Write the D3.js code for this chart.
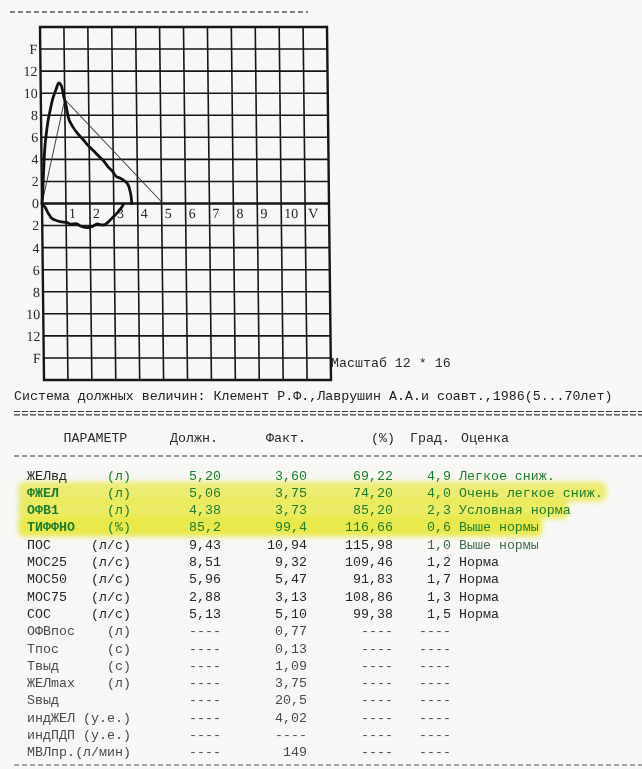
<!DOCTYPE html>
<html>
<head>
<meta charset="utf-8">
<script src="https://cdn.jsdelivr.net/npm/d3@7"></script>
<style>
  body { margin: 0; background: #f7f7f5; }
  svg { display: block; }
</style>
</head>
<body>
<script>
// ---- Flow-volume loop (volume, L  /  flow, L/s) ----
const expVolume = [0, 0.04, 0.08, 0.12, 0.17, 0.23, 0.3, 0.37, 0.5, 0.65, 0.76, 0.86, 0.95, 1.06, 1.17, 1.34, 1.52, 1.75, 1.94, 2.17, 2.42, 2.6, 2.77, 2.95, 3.12, 3.28, 3.4, 3.52, 3.62, 3.7, 3.74, 3.75];
const expFlow   = [0, 1.2, 2.8, 4.3, 5.6, 6.6, 7.6, 8.3, 9.5, 10.4, 10.94, 10.7, 9.8, 8.8, 7.6, 6.9, 6.35, 5.8, 5.3, 4.8, 4.24, 3.85, 3.34, 2.95, 2.45, 2.3, 2.13, 1.95, 1.65, 1.0, 0.45, 0];
const inspVolume = [0, 0.04, 0.13, 0.26, 0.4, 0.54, 0.75, 1.03, 1.17, 1.45, 1.59, 1.87, 2.08, 2.29, 2.5, 2.63, 2.8, 2.98, 3.19, 3.33, 3.4];
const inspFlow   = [0, -0.15, -0.35, -0.9, -1.34, -1.5, -1.65, -1.74, -1.86, -1.84, -2.04, -2.18, -2.1, -1.86, -1.95, -1.9, -1.59, -1.2, -0.74, -0.34, -0.1];
// predicted triangle: start, predicted peak flow, predicted FVC
const predVolume = [0, 1.0, 5.06];
const predFlow   = [0, 9.43, 0];

// ---- Axis ticks ----
const volumeTicks = [1, 2, 3, 4, 5, 6, 7, 8, 9, 10, 11];
const volumeTickLabels = ["1", "2", "3", "4", "5", "6", "7", "8", "9", "10", "V"];
const flowTicks = [14, 12, 10, 8, 6, 4, 2, 0, -2, -4, -6, -8, -10, -12, -14];
const flowTickLabels = ["F", "12", "10", "8", "6", "4", "2", "0", "2", "4", "6", "8", "10", "12", "F"];
const scaleCaption = "Масштаб 12 * 16";

// ---- Results table ----
const normsTitle = "Система должных величин: Клемент Р.Ф.,Лаврушин А.А.и соавт.,1986(5...70лет)";
const headers = ["ПАРАМЕТР", "Должн.", "Факт.", "(%)", "Град.", "Оценка"];
const params = ["ЖЕЛвд", "ФЖЕЛ", "ОФВ1", "ТИФФНО", "ПОС", "МОС25", "МОС50", "МОС75", "СОС", "ОФВпос", "Тпос", "Твыд", "ЖЕЛmax", "Sвыд", "индЖЕЛ", "индПДП", "МВЛпр."];
const units = ["(л)", "(л)", "(л)", "(%)", "(л/с)", "(л/с)", "(л/с)", "(л/с)", "(л/с)", "(л)", "(с)", "(с)", "(л)", "", "(у.е.)", "(у.е.)", "(л/мин)"];
const predicted = ["5,20", "5,06", "4,38", "85,2", "9,43", "8,51", "5,96", "2,88", "5,13", "----", "----", "----", "----", "----", "----", "----", "----"];
const actual = ["3,60", "3,75", "3,73", "99,4", "10,94", "9,32", "5,47", "3,13", "5,10", "0,77", "0,13", "1,09", "3,75", "20,5", "4,02", "----", "149"];
const percent = ["69,22", "74,20", "85,20", "116,66", "115,98", "109,46", "91,83", "108,86", "99,38", "----", "----", "----", "----", "----", "----", "----", "----"];
const grade = ["4,9", "4,0", "2,3", "0,6", "1,0", "1,2", "1,7", "1,3", "1,5", "----", "----", "----", "----", "----", "----", "----", "----"];
const assessment = ["Легкое сниж.", "Очень легкое сниж.", "Условная норма", "Выше нормы", "Выше нормы", "Норма", "Норма", "Норма", "Норма", "", "", "", "", "", "", "", ""];

const W = 642, H = 769;
const svg = d3.select("body").append("svg").attr("width", W).attr("height", H);
svg.append("rect").attr("width", W).attr("height", H).attr("fill", "#f7f7f5");

const defs = svg.append("defs");
defs.append("filter").attr("id", "marker-blur")
  .attr("x", "-5%").attr("y", "-50%").attr("width", "110%").attr("height", "200%")
  .append("feGaussianBlur").attr("stdDeviation", 2.4);

// ---- Plot grid ----
const gx0 = 40, gx1 = 327, gy0 = 27, gy1 = 380;
const x = d3.scaleLinear().domain([0, 12]).range([gx0, gx1]);
const y = d3.scaleLinear().domain([16, -16]).range([gy0, gy1]);

// printed sheet is slightly sheared
const plot = svg.append("g")
  .attr("transform", `translate(${gx0},${gy0}) skewX(0.65) translate(${-gx0},${-gy0})`);

const ink = "#161616";
plot.append("g").selectAll("line").data(d3.range(1, 12)).join("line")
  .attr("x1", d => x(d)).attr("x2", d => x(d))
  .attr("y1", y(16)).attr("y2", y(-16))
  .attr("stroke", ink).attr("stroke-width", 1.6);
plot.append("g").selectAll("line").data(d3.range(-14, 16, 2)).join("line")
  .attr("x1", x(0)).attr("x2", x(12))
  .attr("y1", d => y(d)).attr("y2", d => y(d))
  .attr("stroke", ink).attr("stroke-width", d => d === 0 ? 2.4 : 1.6);
plot.append("rect")
  .attr("x", x(0)).attr("y", y(16))
  .attr("width", x(12) - x(0)).attr("height", y(-16) - y(16))
  .attr("fill", "none").attr("stroke", ink).attr("stroke-width", 2.4);

// axis labels
plot.append("g").selectAll("text").data(flowTicks).join("text")
  .attr("x", x(0) - 3).attr("y", d => y(d)).attr("dy", "0.35em")
  .attr("text-anchor", "end")
  .attr("font-family", "Liberation Serif, serif").attr("font-size", 14)
  .attr("fill", "#2a2a2a")
  .text((d, i) => flowTickLabels[i]);
plot.append("g").selectAll("text").data(volumeTicks).join("text")
  .attr("x", d => x(d) + 3).attr("y", y(0) + 15)
  .attr("font-family", "Liberation Serif, serif").attr("font-size", 14)
  .attr("fill", "#2a2a2a")
  .text((d, i) => volumeTickLabels[i]);

// predicted triangle
const line = d3.line().x(d => x(d[0])).y(d => y(d[1]));
plot.append("path")
  .attr("d", line(d3.zip(predVolume, predFlow)))
  .attr("fill", "none").attr("stroke", "#3a3a3a").attr("stroke-width", 1);

// measured loop
const smooth = d3.line().x(d => x(d[0])).y(d => y(d[1])).curve(d3.curveCatmullRom.alpha(0.5));
plot.append("path")
  .attr("d", smooth(d3.zip(expVolume, expFlow)))
  .attr("fill", "none").attr("stroke", "#111").attr("stroke-width", 2.8)
  .attr("stroke-linejoin", "round").attr("stroke-linecap", "round");
plot.append("path")
  .attr("d", smooth(d3.zip(inspVolume, inspFlow)))
  .attr("fill", "none").attr("stroke", "#111").attr("stroke-width", 2.8)
  .attr("stroke-linejoin", "round").attr("stroke-linecap", "round");

// ---- Text part ----
const mono = "Liberation Mono, Courier New, monospace";
const fs = 13.3;

svg.append("text").attr("x", 331).attr("y", 367)
  .attr("font-family", mono).attr("font-size", fs).attr("fill", "#2a2a2a")
  .text(scaleCaption);

// separators
function dashed(yy, xa, xb, dash, w, color) {
  svg.append("line").attr("x1", xa).attr("x2", xb).attr("y1", yy).attr("y2", yy)
    .attr("stroke", color).attr("stroke-width", w).attr("stroke-dasharray", dash);
}
dashed(12, 10, 308, "5,3", 1.3, "#555");
dashed(411.5, 14, 642, "6,2", 1.2, "#3a3a3a");
dashed(414.8, 14, 642, "6,2", 1.2, "#3a3a3a");
dashed(456, 14, 642, "5,3", 1.2, "#3a3a3a");
dashed(765, 14, 642, "5,3", 1.2, "#555");

svg.append("text").attr("x", 14).attr("y", 400)
  .attr("font-family", mono).attr("font-size", fs).attr("fill", "#222")
  .text(normsTitle);

// highlighter strokes behind marked rows
const rowY0 = 475, rowStep = 17.3;
const rowY = i => rowY0 + i * rowStep;
const marker = svg.append("g").attr("filter", "url(#marker-blur)")
  .style("mix-blend-mode", "multiply");
[[1, 606, 0.7], [2, 568, 0.78], [3, 542, 0.92]].forEach(([i, xEnd, op]) => {
  marker.append("rect")
    .attr("x", 18).attr("y", rowY(i) - 10.5)
    .attr("width", xEnd - 18).attr("height", 20).attr("rx", 6)
    .attr("fill", "#f0f040").attr("opacity", op);
});

// header
const headerX = [63.5, 170, 266, 371, 410, 461];
svg.append("g").selectAll("text").data(headers).join("text")
  .attr("x", (d, i) => headerX[i]).attr("y", 442)
  .attr("font-family", mono).attr("font-size", fs).attr("fill", "#2a2a2a")
  .text(d => d);

// rows
const marked = new Set(["ФЖЕЛ", "ОФВ1", "ТИФФНО"]);
const green = "#1d7d2c";
const rows = svg.append("g").attr("font-family", mono).attr("font-size", fs);
params.forEach((p, i) => {
  const yy = rowY(i) + 4.5;
  const isMarked = marked.has(p);
  const first = i === 0;
  const base = i >= 9 ? "#4a4a4a" : "#262626";
  const valColor = (isMarked || first) ? green : base;
  const g = rows.append("g");
  g.append("text").attr("x", 27).attr("y", yy)
    .attr("fill", isMarked ? green : base)
    .attr("font-weight", isMarked ? "bold" : "normal").text(p);
  g.append("text").attr("x", 131).attr("y", yy).attr("text-anchor", "end")
    .attr("fill", valColor).text(units[i]);
  g.append("text").attr("x", 221).attr("y", yy).attr("text-anchor", "end")
    .attr("fill", valColor).text(predicted[i]);
  g.append("text").attr("x", 307).attr("y", yy).attr("text-anchor", "end")
    .attr("fill", valColor).text(actual[i]);
  g.append("text").attr("x", 393).attr("y", yy).attr("text-anchor", "end")
    .attr("fill", valColor).text(percent[i]);
  const gradeColor = i === 4 ? "#3f6b48" : valColor;
  g.append("text").attr("x", 451).attr("y", yy).attr("text-anchor", "end")
    .attr("fill", gradeColor).text(grade[i]);
  if (assessment[i]) {
    g.append("text").attr("x", 459).attr("y", yy)
      .attr("fill", gradeColor).text(assessment[i]);
  }
});
</script>
</body>
</html>
